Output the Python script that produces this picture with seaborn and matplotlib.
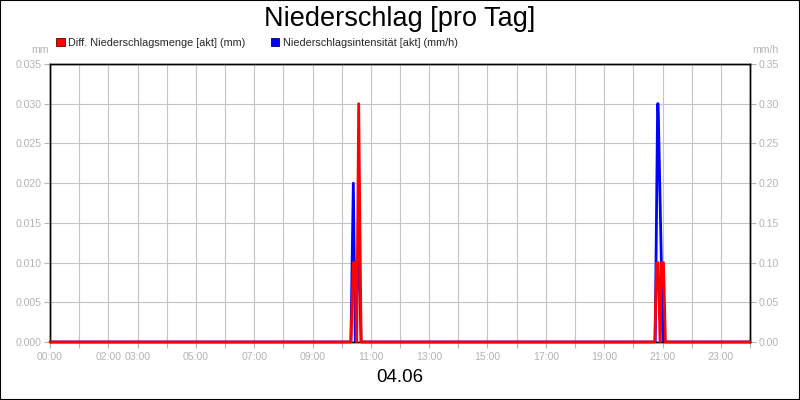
import matplotlib
matplotlib.use("Agg")
import matplotlib.pyplot as plt
import seaborn as sns
import pandas as pd
from matplotlib.patches import Patch, Rectangle

title = "Niederschlag [pro Tag]"
date_label = "04.06"
red_label = "Diff. Niederschlagsmenge [akt] (mm)"
blue_label = "Niederschlagsintensität [akt] (mm/h)"
left_unit = "mm"
right_unit = "mm/h"

red_times = ["00:00", "10:19", "10:24", "10:27", "10:31", "10:35", "10:40",
             "20:44", "20:48", "20:51", "20:55", "20:58", "21:02", "21:06", "24:00"]
red_values = [0, 0, 0.01, 0.01, 0, 0.03, 0,
              0, 0.01, 0.01, 0, 0.01, 0.01, 0, 0]

blue_times = ["00:00", "10:19", "10:24", "10:28", "10:33", "10:36", "10:40",
              "20:45", "20:50", "20:51", "21:01", "24:00"]
blue_values = [0, 0, 0.2, 0, 0.1, 0.1, 0,
               0, 0.3, 0.3, 0, 0]

xtick_hours = [0, 2, 3, 5, 7, 9, 11, 13, 15, 17, 19, 21, 23]
xtick_labels = ["00:00", "02:00", "03:00", "05:00", "07:00", "09:00", "11:00",
                "13:00", "15:00", "17:00", "19:00", "21:00", "23:00"]
left_ticks = [0.000, 0.005, 0.010, 0.015, 0.020, 0.025, 0.030, 0.035]
right_ticks = [0.00, 0.05, 0.10, 0.15, 0.20, 0.25, 0.30, 0.35]


def to_hours(s):
    h, m = s.split(":")
    return int(h) + int(m) / 60.0


red_df = pd.DataFrame({"t": [to_hours(s) for s in red_times], "v": red_values})
blue_df = pd.DataFrame({"t": [to_hours(s) for s in blue_times], "v": blue_values})

sns.set_theme(style="white")
plt.rcParams["font.family"] = ["Liberation Sans", "DejaVu Sans"]

GRAY = "#b4b4b4"
GRID = "#c4c4c4"
TICK_FS = 7.6

fig = plt.figure(figsize=(8, 4), dpi=100)
fig.patch.set_facecolor("white")
ax = fig.add_axes([50 / 800, 1 - 342 / 400, 700 / 800, 278 / 400])
ax2 = ax.twinx()

# blue on primary (right scale), red on twin (left scale) so red is drawn on top
sns.lineplot(data=blue_df, x="t", y="v", ax=ax, color="#0000ff", lw=2.0,
             legend=False, zorder=3)
sns.lineplot(data=red_df, x="t", y="v", ax=ax2, color="#ff0000", lw=2.0,
             legend=False, zorder=3)
for ln in ax2.lines:
    ln.set_clip_on(False)

ax.set_xlim(0, 24)
ax.set_ylim(0, 0.35)
ax2.set_ylim(0, 0.035)

hour_ticks = list(range(25))
ax.set_xticks(hour_ticks)
labs = []
for h in hour_ticks:
    labs.append(xtick_labels[xtick_hours.index(h)] if h in xtick_hours else "")
ax.set_xticklabels(labs)

ax.yaxis.tick_right()
ax.yaxis.set_label_position("right")
ax.set_yticks(right_ticks)
ax.set_yticklabels([f"{v:.2f}" for v in right_ticks])
ax2.yaxis.tick_left()
ax2.yaxis.set_label_position("left")
ax2.set_yticks(left_ticks)
ax2.set_yticklabels([f"{v:.3f}" for v in left_ticks])

ax.set_xlabel("")
ax.set_ylabel("")
ax2.set_ylabel("")

ax.grid(True, color=GRID, lw=0.8)
ax.set_axisbelow(True)
ax2.grid(False)

for a in (ax, ax2):
    a.tick_params(axis="both", which="major", length=4, width=0.8, color=GRAY,
                  labelcolor=GRAY, labelsize=TICK_FS, pad=2)
    a.tick_params(axis="y", left=False, right=False)
    for sp in a.spines.values():
        sp.set_color("black")
        sp.set_linewidth(1.0)
ax.tick_params(axis="x", bottom=True, pad=3)
ax.tick_params(axis="y", right=True, left=False)
ax2.tick_params(axis="y", left=True, right=False)

fig.text(0.5, 1 - 19 / 400, title, ha="center", va="center", fontsize=19.5, color="black")
fig.text(0.5, 1 - 378 / 400, date_label, ha="center", va="center", fontsize=13.5, color="black")
fig.text(40 / 800, 1 - 50 / 400, left_unit, ha="center", va="center", fontsize=TICK_FS, color=GRAY)
fig.text(765 / 800, 1 - 50 / 400, right_unit, ha="center", va="center", fontsize=TICK_FS, color=GRAY)

handles = [Patch(facecolor="#ff0000", edgecolor="#600000", lw=0.6),
           Patch(facecolor="#0000ff", edgecolor="#000060", lw=0.6)]
fig.legend(handles=handles, labels=[red_label, blue_label], loc="upper left",
           bbox_to_anchor=(56 / 800, 1 - 38 / 400), ncol=2, frameon=False,
           fontsize=7.8, handlelength=0.8, handleheight=0.8, handletextpad=0.35,
           columnspacing=2.3, borderaxespad=0, borderpad=0)

fig.add_artist(Rectangle((0, 0), 1, 1, transform=fig.transFigure, fill=False,
                         edgecolor="black", lw=1.5))

fig.savefig("out.png", dpi=100, facecolor="white")
